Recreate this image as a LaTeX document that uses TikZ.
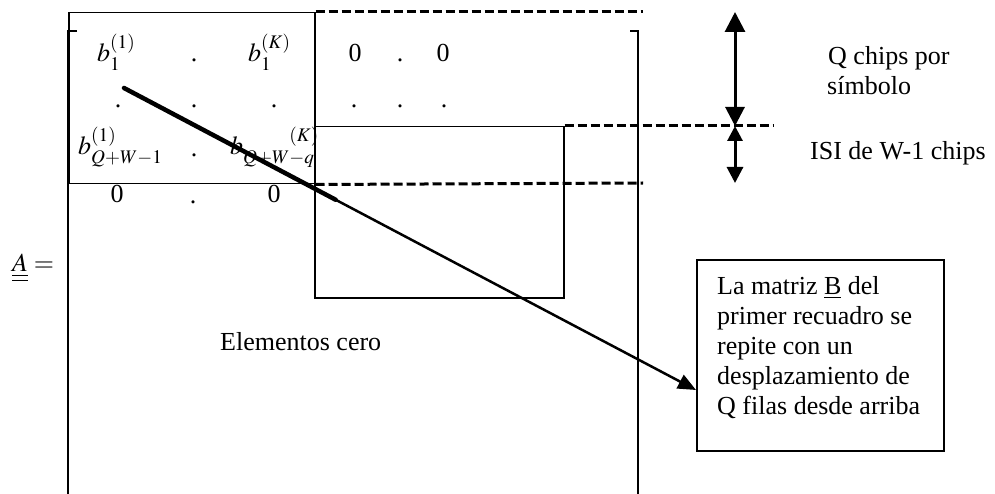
\documentclass[tikz,border=0pt]{standalone}
\usepackage{mathptmx}
\usepackage{fontspec}
\setmainfont{Liberation Serif}
\usetikzlibrary{arrows.meta,calc}
\begin{document}
\begin{tikzpicture}[x=1pt,y=-1pt,
  font=\fontsize{26}{30}\selectfont,
  txt/.style={anchor=base west,inner sep=0pt},
  ctr/.style={anchor=base,inner sep=0pt},
  boxline/.style={line width=1.5pt},
  brk/.style={line width=2pt},
  dashline/.style={line width=3pt,dash pattern=on 9pt off 4pt},
  dimbig/.style={line width=3pt,{Triangle[length=20pt,width=20pt]}-{Triangle[length=19pt,width=19pt]}},
  dimsmall/.style={line width=3pt,{Triangle[length=15pt,width=15pt]}-{Triangle[length=16pt,width=16pt]}},
  rect/.style={draw,boxline,anchor=north west,inner sep=0pt}]
\useasboundingbox (0,0) rectangle (995,494);

% boxes
\node[rect,minimum width=246pt,minimum height=171pt] (boxB) at (68,12) {};
\node[rect,minimum width=249pt,minimum height=171pt] (boxC) at (314,126) {};
\node[rect,minimum width=247pt,minimum height=191pt] (callout) at (696,259) {};

% brackets
\draw[brk] (77,31) -- (68,31) -- (68,494);
\draw[brk] (630,31) -- (638,31) -- (638,494);

% dashed lines
\coordinate (d1) at (643,12);
\coordinate (d2) at (773,126);
\coordinate (d3) at (643,183);
\draw[dashline] (boxB.north east) -- (d1);
\draw[dashline] (boxC.north east) -- (d2);
\draw[dashline] (boxB.south east) -- (d3);

% dimension arrows
\coordinate (a1) at (735,12);
\coordinate (a2) at (735,126);
\coordinate (a3) at (735,183);
\draw[dimbig] (a1) -- (a2);
\draw[dimsmall] (a2) -- (a3);

% matrix entries
\node[txt] (b11) at (97,62) {$b_1^{(1)}$};
\node[ctr] (p11) at (194,62) {.};
\node[txt] (b1K) at (248,62) {$b_1^{(K)}$};
\node[ctr] (z11) at (355,62) {0};
\node[ctr] (p12) at (400,62) {.};
\node[ctr] (z12) at (443,62) {0};

\node[ctr] (r2a) at (118,108) {.};
\node[ctr] (r2b) at (194,108) {.};
\node[ctr] (r2c) at (274,108) {.};
\node[ctr] (r2d) at (354,108) {.};
\node[ctr] (r2e) at (400,108) {.};
\node[ctr] (r2f) at (444,108) {.};

\node[txt] (bQ1) at (78,155) {$b_{Q+W-1}^{(1)}$};
\node[ctr] (p31) at (194,157) {.};
\node[txt] (bQK) at (230,155) {$b_{Q+W-q}^{\hphantom{Q+W}(K)}$};

\node[ctr] (z41) at (117,203) {0};
\node[ctr] (p41) at (193,204) {.};
\node[ctr] (z42) at (274,203) {0};

% A =
\node[txt] (Aeq) at (12,272) {$\underline{\underline{A}}=$};

% labels
\node[txt] (q1) at (828,65) {Q chips por};
\node[txt] (q2) at (827,95) {símbolo};
\node[txt] (isi) at (810,160) {ISI de W-1 chips};
\node[txt] (zero) at (220,350) {Elementos cero};

\node[txt] (c1) at (717,294) {La matriz \underline{B} del};
\node[txt] (c2) at (717,324) {primer recuadro se};
\node[txt] (c3) at (717,354) {repite con un};
\node[txt] (c4) at (717,384) {desplazamiento de};
\node[txt] (c5) at (717,414) {Q filas desde arriba};

% diagonal arrow
\coordinate (s) at (124,88);
\coordinate (tip) at (696,390);
\draw[line width=2.5pt,-{Triangle[length=18pt,width=15pt]}] (s) -- (tip);
\draw[line width=4.5pt,line cap=round] (s) -- ($(s)!0.37!(tip)$);
\end{tikzpicture}
\end{document}
